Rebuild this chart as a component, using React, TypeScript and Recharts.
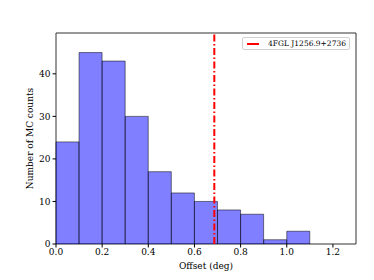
import React from "react";
import { ComposedChart, Bar, XAxis, YAxis, ReferenceLine, ReferenceArea } from "recharts";

const binStarts = [0.0, 0.1, 0.2, 0.3, 0.4, 0.5, 0.6, 0.7, 0.8, 0.9, 1.0, 1.1, 1.2];
const counts: (number | null)[] = [24, 45, 43, 30, 17, 12, 10, 8, 7, 1, 3, null, null];
const xTicks = [0, 0.2, 0.4, 0.6, 0.8, 1.0, 1.2];
const yTicks = [0, 10, 20, 30, 40];
const sourceOffset = 0.686;
const sourceName = "4FGL J1256.9+2736";

const data = binStarts.map((b, i) => ({ bin: b.toFixed(1), count: counts[i] }));

const font = "DejaVu Serif";

const LegendBox = () => (
  <div
    style={{
      position: "absolute",
      left: 242,
      top: 37,
      width: 108,
      height: 13,
      border: "1px solid #d0d0d0",
      borderRadius: 2,
      background: "#fff",
      boxSizing: "border-box",
      fontFamily: font,
      fontSize: 7.5,
      color: "#000",
      display: "flex",
      alignItems: "center",
    }}
  >
    <div style={{ width: 12, height: 2, background: "#ff0000", marginLeft: 4 }} />
    <span style={{ marginLeft: 9, whiteSpace: "nowrap" }}>{sourceName}</span>
  </div>
);

export default function App() {
  return (
    <div style={{ position: "absolute", left: 0, top: 0, width: 374, height: 280, background: "#fff" }}>
      <ComposedChart
        width={374}
        height={280}
        data={data}
        margin={{ top: 33, right: 18, left: 0, bottom: 0 }}
        barCategoryGap={0}
        barGap={0}
      >
        <XAxis dataKey="bin" xAxisId="cat" hide height={0} />
        <XAxis
          xAxisId="num"
          type="number"
          dataKey="x"
          domain={[0, 1.3]}
          ticks={xTicks}
          allowDataOverflow
          tickFormatter={(v: number) => v.toFixed(1)}
          height={36}
          tickSize={3.5}
          tickMargin={1}
          axisLine={false}
          tick={{ fontFamily: font, fontSize: 9, fill: "#000" }}
          tickLine={{ stroke: "#000" }}
          label={{ value: "Offset (deg)", position: "insideBottom", offset: 11, fontFamily: font, fontSize: 9, fill: "#000" }}
        />
        <YAxis
          domain={[0, 49.6]}
          ticks={yTicks}
          allowDataOverflow
          width={56}
          tickSize={3.5}
          tickMargin={2}
          axisLine={false}
          tick={{ fontFamily: font, fontSize: 9, fill: "#000" }}
          tickLine={{ stroke: "#000" }}
          label={{ value: "Number of MC counts", angle: -90, position: "insideLeft", offset: 30, dy: 0, style: { textAnchor: "middle" }, fontFamily: font, fontSize: 9, fill: "#000" }}
        />
        <Bar
          dataKey="count"
          xAxisId="cat"
          fill="#0000ff"
          fillOpacity={0.5}
          stroke="#000"
          strokeOpacity={0.5}
          strokeWidth={1}
          isAnimationActive={false}
        />
        <ReferenceLine
          xAxisId="num"
          x={sourceOffset}
          stroke="#ff0000"
          strokeWidth={2}
          strokeDasharray="7 2.5 1.5 2.5"
          segment={[{ x: sourceOffset, y: 0 }, { x: sourceOffset, y: 47.3 }]}
        />
        <ReferenceArea
          xAxisId="num"
          x1={0}
          x2={1.3}
          y1={0}
          y2={49.6}
          fill="none"
          stroke="#333"
          strokeWidth={1}
          ifOverflow="visible"
        />
      </ComposedChart>
      <LegendBox />
    </div>
  );
}
